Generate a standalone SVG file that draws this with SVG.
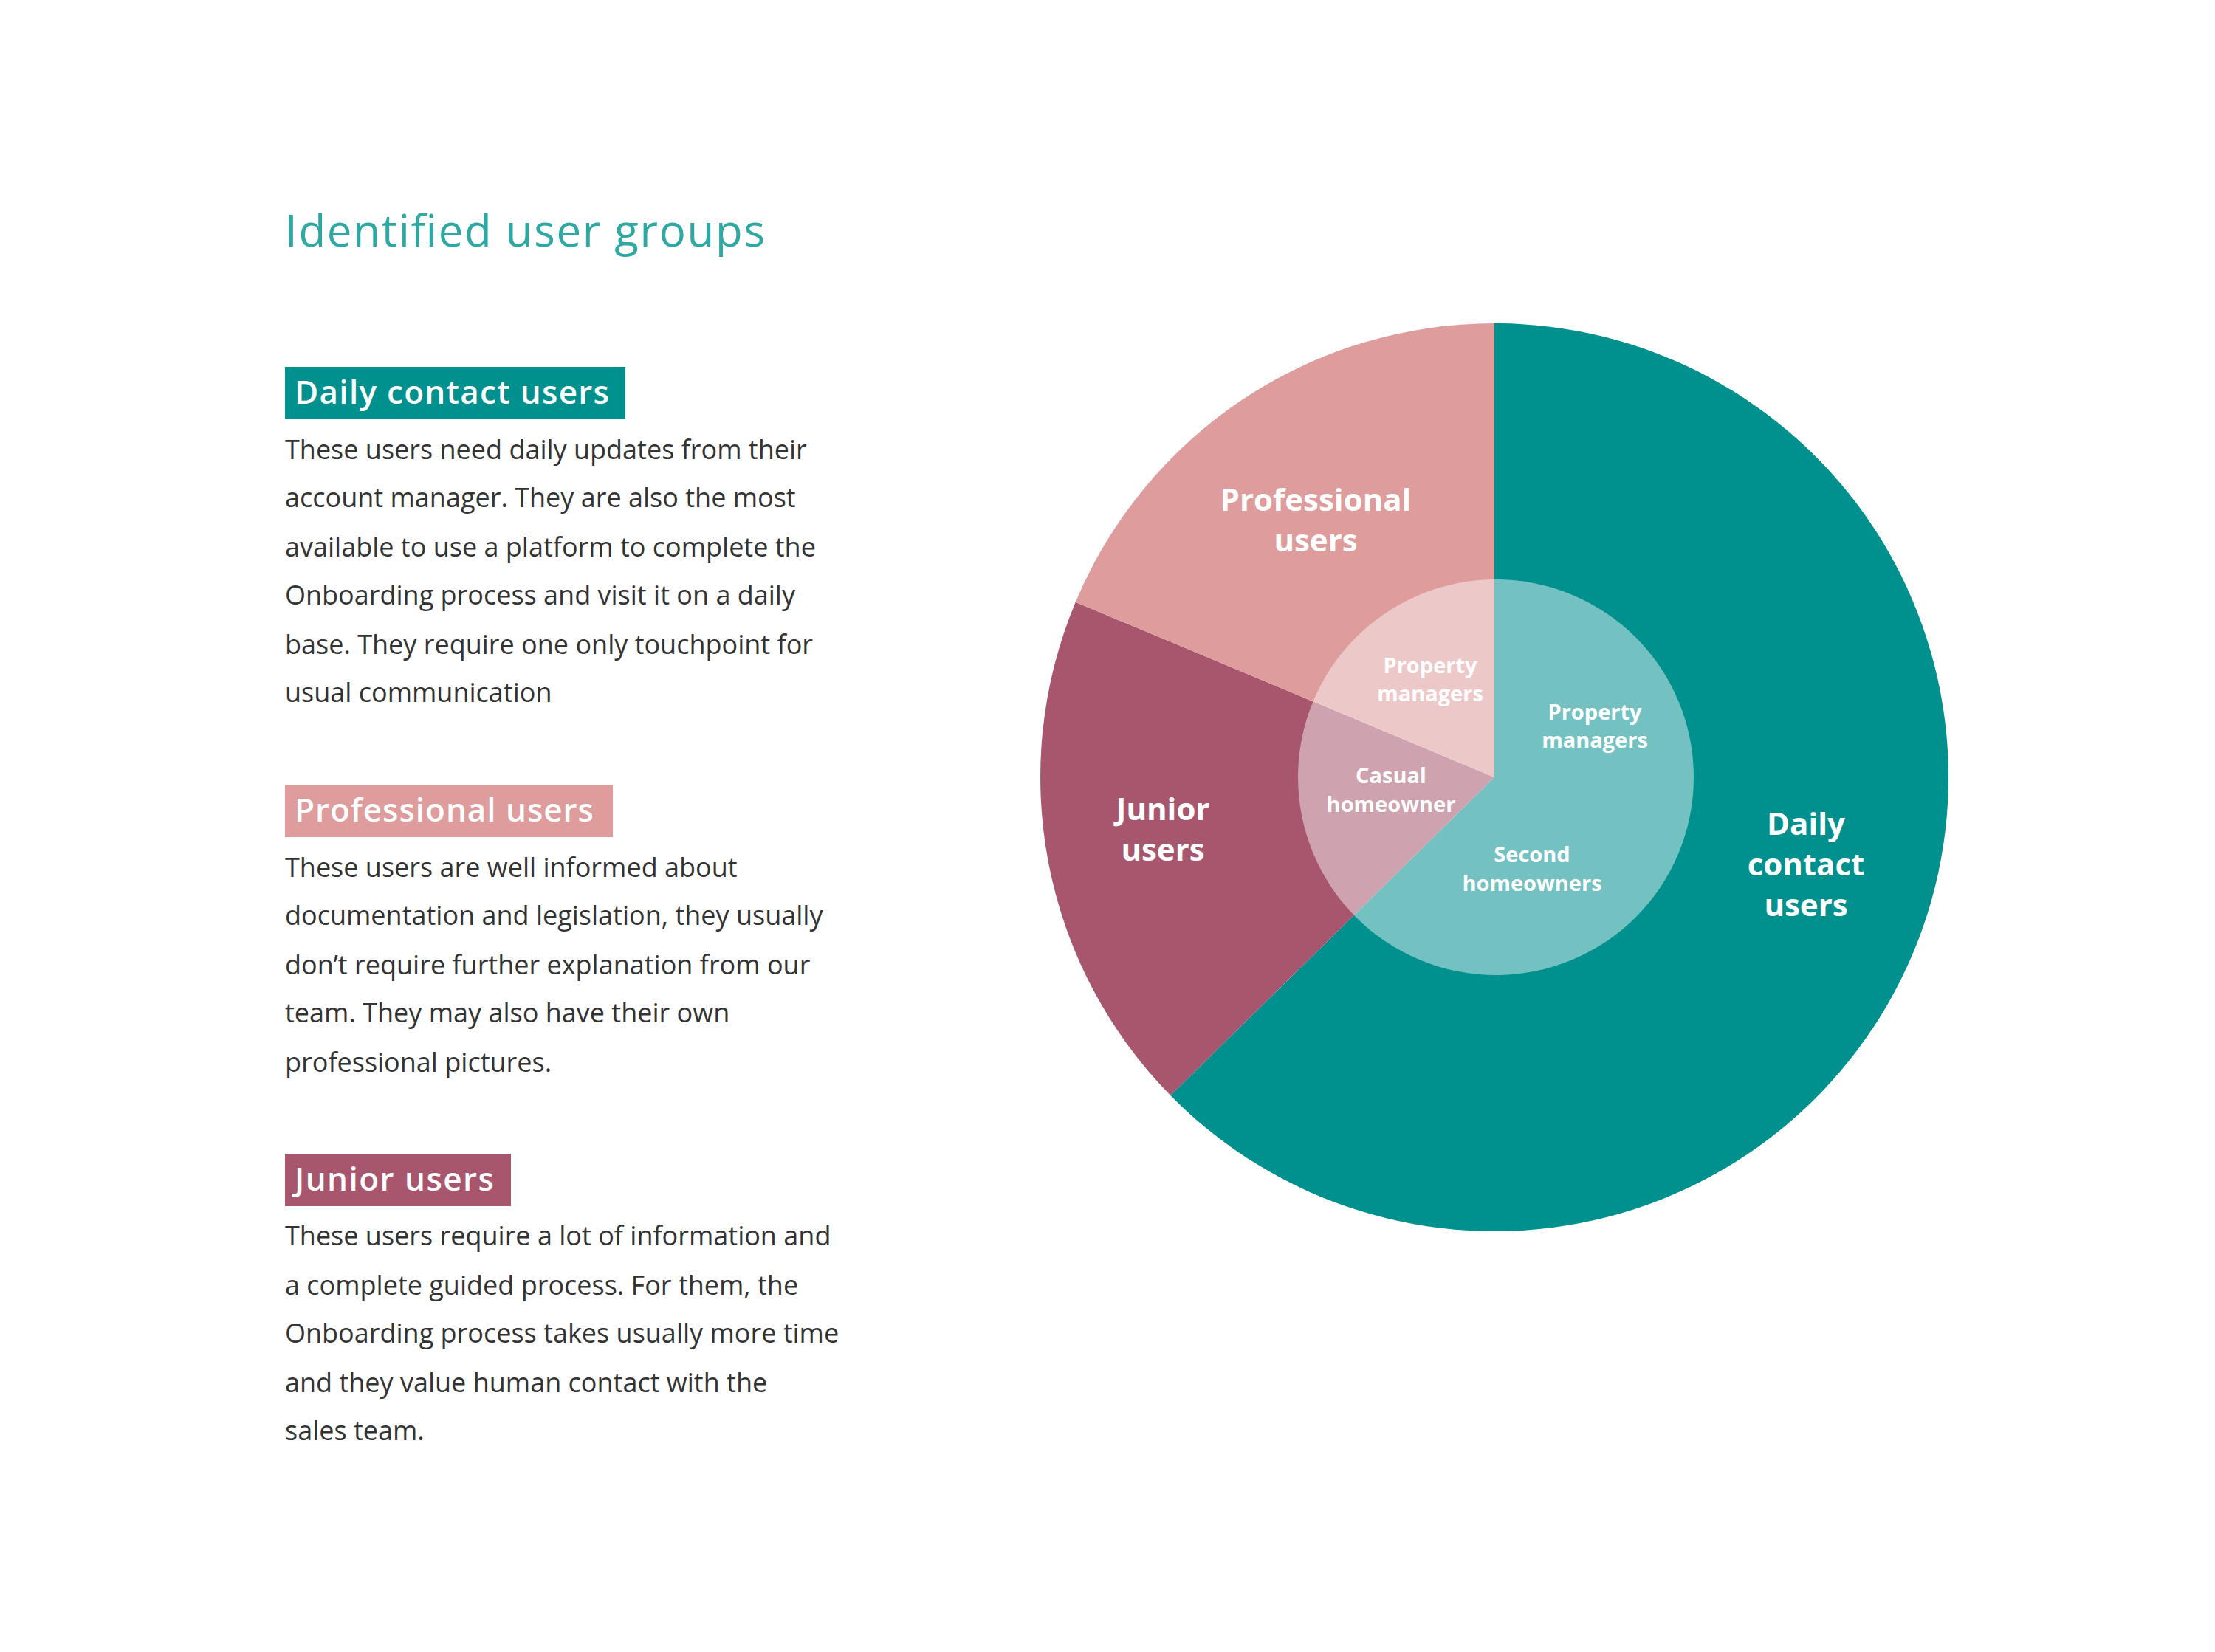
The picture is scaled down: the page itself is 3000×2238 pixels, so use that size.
<svg xmlns="http://www.w3.org/2000/svg" width="3000" height="2238" viewBox="0 0 3000 2238">
<style>
.body{font-family:"Open Sans","Liberation Sans",sans-serif;font-size:36px;fill:#333333}
.badge{font-family:"Open Sans","Liberation Sans",sans-serif;font-size:44px;font-weight:600;fill:#ffffff}
.big{font-family:"Open Sans","Liberation Sans",sans-serif;font-size:42px;font-weight:700;fill:#ffffff;text-anchor:middle}
.small{font-family:"Open Sans","Liberation Sans",sans-serif;font-size:29px;font-weight:700;fill:#ffffff;text-anchor:middle}
</style>
<rect width="3000" height="2238" fill="#ffffff"/>
<text x="386" y="334" font-family="'Open Sans','Liberation Sans',sans-serif" font-size="60" fill="#2EA8A2" textLength="650">Identified user groups</text>

<g id="sec-daily">
<rect x="386" y="497" width="461" height="71" fill="#00908E"/>
<text class="badge" x="399" y="547" textLength="426">Daily contact users</text>
<text class="body" x="386" y="622">These users need daily updates from their</text>
<text class="body" x="386" y="687">account manager. They are also the most</text>
<text class="body" x="386" y="754">available to use a platform to complete the</text>
<text class="body" x="386" y="819">Onboarding process and visit it on a daily</text>
<text class="body" x="386" y="886">base. They require one only touchpoint for</text>
<text class="body" x="386" y="951">usual communication</text>
</g>
<g id="sec-pro">
<rect x="386" y="1064" width="444" height="70" fill="#DE9C9C"/>
<text class="badge" x="399" y="1113" textLength="405">Professional users</text>
<text class="body" x="386" y="1188">These users are well informed about</text>
<text class="body" x="386" y="1253">documentation and legislation, they usually</text>
<text class="body" x="386" y="1320">don’t require further explanation from our</text>
<text class="body" x="386" y="1385">team. They may also have their own</text>
<text class="body" x="386" y="1452">professional pictures.</text>
</g>
<g id="sec-junior">
<rect x="386" y="1563" width="306" height="71" fill="#A8566D"/>
<text class="badge" x="399" y="1613" textLength="270">Junior users</text>
<text class="body" x="386" y="1687">These users require a lot of information and</text>
<text class="body" x="386" y="1754">a complete guided process. For them, the</text>
<text class="body" x="386" y="1819">Onboarding process takes usually more time</text>
<text class="body" x="386" y="1886">and they value human contact with the</text>
<text class="body" x="386" y="1951">sales team.</text>
</g>

<g id="pie-daily">
<path d="M2024 1053 L2024 438 A615 615 0 1 1 1585.3 1484 Z" fill="#00908E"/>
</g>
<g id="pie-junior">
<path d="M2024 1053 L1585.3 1484 A615 615 0 0 1 1456.7 815.7 Z" fill="#A8566D"/>
</g>
<g id="pie-pro">
<path d="M2024 1053 L1456.7 815.7 A615 615 0 0 1 2024 438 Z" fill="#DE9C9C"/>
</g>
<g id="inner">
<circle cx="2026" cy="1053" r="268" fill="#ffffff" fill-opacity="0.45"/>
</g>
<g id="labels">
<text class="big" x="1782" y="692">Professional</text>
<text class="big" x="1782" y="747">users</text>
<text class="big" x="1575" y="1111">Junior</text>
<text class="big" x="1575" y="1166">users</text>
<text class="big" x="2446" y="1131">Daily</text>
<text class="big" x="2446" y="1186">contact</text>
<text class="big" x="2446" y="1241">users</text>
<text class="small" x="1937" y="912">Property</text>
<text class="small" x="1937" y="950">managers</text>
<text class="small" x="2160" y="975">Property</text>
<text class="small" x="2160" y="1013">managers</text>
<text class="small" x="1884" y="1061">Casual</text>
<text class="small" x="1884" y="1100">homeowner</text>
<text class="small" x="2075" y="1168">Second</text>
<text class="small" x="2075" y="1207">homeowners</text>
</g>
<g id="connectors"/>
</svg>
